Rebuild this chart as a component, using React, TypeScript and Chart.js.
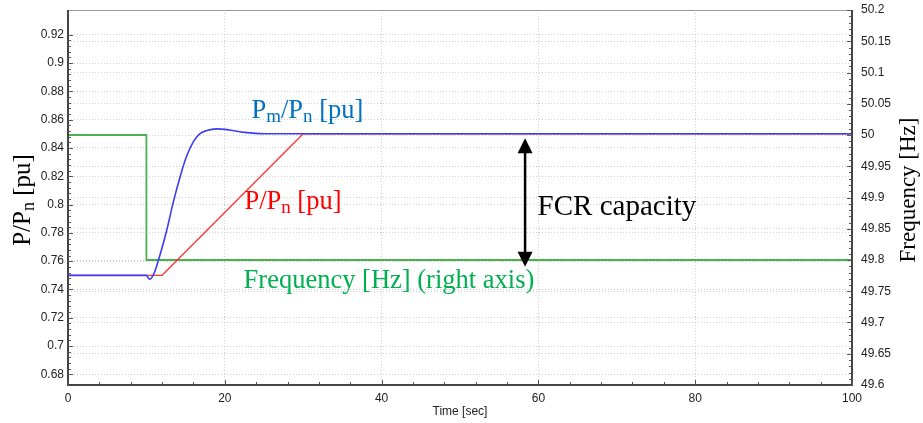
import { useEffect, useRef } from 'react';
import { Chart, registerables } from 'chart.js';

Chart.register(...registerables);

// ---- data ----
const pmTime = [0, 10, 10.4, 10.85, 11.3, 12.6, 13.4, 14.3, 15.1, 16, 16.8, 17.7, 18.9, 20.6, 22.5, 25, 100];
const pmValue = [0.75, 0.75, 0.7472, 0.75, 0.7565, 0.782, 0.801, 0.8197, 0.8338, 0.8445, 0.85, 0.8523, 0.8535, 0.8527, 0.851, 0.85, 0.85];
const pTime = [0, 12, 30, 100];
const pValue = [0.75, 0.75, 0.85, 0.85];
const freqTime = [0, 10, 10, 100];
const freqValue = [50, 50, 49.8, 49.8];

const timeTicks = [0, 20, 40, 60, 80, 100];
const leftTicks = [0.68, 0.7, 0.72, 0.74, 0.76, 0.78, 0.8, 0.82, 0.84, 0.86, 0.88, 0.9, 0.92];
const rightTicks = [49.6, 49.65, 49.7, 49.75, 49.8, 49.85, 49.9, 49.95, 50, 50.05, 50.1, 50.15, 50.2];

const xTitle = 'Time [sec]';
const leftTitle = [{ t: 'P/P' }, { t: 'n', sub: true }, { t: ' [pu]' }];
const rightTitle = 'Frequency [Hz]';

const pmLabel = { x: 23.4, y: 0.8612, color: '#0070c0', parts: [{ t: 'P' }, { t: 'm', sub: true }, { t: '/P' }, { t: 'n', sub: true }, { t: ' [pu]' }] };
const pLabel = { x: 22.5, y: 0.7967, color: '#ff0000', parts: [{ t: 'P/P' }, { t: 'n', sub: true }, { t: ' [pu]' }] };
const freqLabel = { x: 22.4, y: 0.7408, color: '#00b050', parts: [{ t: 'Frequency [Hz] (right axis)' }] };
const fcrLabel = { x: 59.9, y: 0.7926, color: '#000000', parts: [{ t: 'FCR capacity' }] };
const fcrArrow = { x: 58.3, top: 0.8468, bottom: 0.7561 };

const SERIF = '"Liberation Serif", "Times New Roman", serif';
const SANS = '"Liberation Sans", Arial, sans-serif';

type Part = { t: string; sub?: boolean };

function drawRich(ctx: CanvasRenderingContext2D, parts: Part[], x: number, y: number, size: number, align: 'left' | 'center' = 'left') {
  const sub = Math.round(size * 0.72);
  const widths = parts.map((p) => {
    ctx.font = `${p.sub ? sub : size}px ${SERIF}`;
    return ctx.measureText(p.t).width;
  });
  const total = widths.reduce((a, b) => a + b, 0);
  let cx = align === 'center' ? x - total / 2 : x;
  ctx.textBaseline = 'alphabetic';
  ctx.textAlign = 'left';
  parts.forEach((p, i) => {
    ctx.font = `${p.sub ? sub : size}px ${SERIF}`;
    ctx.fillText(p.t, cx, p.sub ? y + size * 0.15 : y);
    cx += widths[i];
  });
}

const overlay = {
  id: 'overlay',
  afterDatasetsDraw(chart: any) {
    const { ctx, chartArea: a, scales } = chart;
    const sx = scales.x;
    const yl = scales.y;
    const yr = scales.y1;
    ctx.save();
    // frame
    ctx.strokeStyle = '#9a9a9a';
    ctx.lineWidth = 1;
    ctx.beginPath();
    ctx.moveTo(a.left, a.top + 0.5);
    ctx.lineTo(a.right, a.top + 0.5);
    ctx.stroke();
    ctx.strokeStyle = '#444';
    ctx.lineWidth = 2;
    ctx.beginPath();
    ctx.moveTo(a.left, a.top);
    ctx.lineTo(a.left, a.bottom);
    ctx.lineTo(a.right, a.bottom);
    ctx.lineTo(a.right, a.top);
    ctx.stroke();
    // minor ticks
    ctx.lineWidth = 1;
    ctx.strokeStyle = '#555';
    ctx.beginPath();
    for (let i = 0; i < timeTicks.length - 1; i++) {
      const step = (timeTicks[i + 1] - timeTicks[i]) / 5;
      for (let k = 0; k <= 5; k++) {
        const px = Math.round(sx.getPixelForValue(timeTicks[i] + k * step)) + 0.5;
        const len = k === 0 || k === 5 ? 5 : 3;
        ctx.moveTo(px, a.bottom);
        ctx.lineTo(px, a.bottom - len);
      }
    }
    for (let i = 0; i < leftTicks.length - 1; i++) {
      const step = (leftTicks[i + 1] - leftTicks[i]) / 5;
      for (let k = 0; k <= 5; k++) {
        const py = Math.round(yl.getPixelForValue(leftTicks[i] + k * step)) + 0.5;
        const len = k === 0 || k === 5 ? 5 : 3;
        ctx.moveTo(a.left, py);
        ctx.lineTo(a.left + len, py);
      }
    }
    for (let i = 0; i < rightTicks.length - 1; i++) {
      const step = (rightTicks[i + 1] - rightTicks[i]) / 5;
      for (let k = 0; k <= 5; k++) {
        const py = Math.round(yr.getPixelForValue(rightTicks[i] + k * step)) + 0.5;
        const len = k === 0 || k === 5 ? 5 : 3;
        ctx.moveTo(a.right, py);
        ctx.lineTo(a.right - len, py);
      }
    }
    ctx.stroke();

    // annotations
    [pmLabel, pLabel, freqLabel].forEach((l) => {
      ctx.fillStyle = l.color;
      drawRich(ctx, l.parts, sx.getPixelForValue(l.x), yl.getPixelForValue(l.y), 26.5);
    });
    ctx.fillStyle = fcrLabel.color;
    drawRich(ctx, fcrLabel.parts, sx.getPixelForValue(fcrLabel.x), yl.getPixelForValue(fcrLabel.y), 29);

    // arrow
    const ax = sx.getPixelForValue(fcrArrow.x);
    const at = yl.getPixelForValue(fcrArrow.top);
    const ab = yl.getPixelForValue(fcrArrow.bottom);
    const hw = 7.5;
    const hh = 15;
    ctx.strokeStyle = '#000';
    ctx.fillStyle = '#000';
    ctx.lineWidth = 2.5;
    ctx.beginPath();
    ctx.moveTo(ax, at + hh - 1);
    ctx.lineTo(ax, ab - hh + 1);
    ctx.stroke();
    ctx.beginPath();
    ctx.moveTo(ax, at);
    ctx.lineTo(ax - hw, at + hh);
    ctx.lineTo(ax + hw, at + hh);
    ctx.closePath();
    ctx.fill();
    ctx.beginPath();
    ctx.moveTo(ax, ab);
    ctx.lineTo(ax - hw, ab - hh);
    ctx.lineTo(ax + hw, ab - hh);
    ctx.closePath();
    ctx.fill();

    // axis titles
    ctx.fillStyle = '#000';
    ctx.save();
    ctx.translate(30, 200);
    ctx.rotate(-Math.PI / 2);
    drawRich(ctx, leftTitle, 0, 0, 25, 'center');
    ctx.restore();
    ctx.save();
    ctx.translate(915, 190);
    ctx.rotate(-Math.PI / 2);
    drawRich(ctx, [{ t: rightTitle }], 0, 0, 23, 'center');
    ctx.restore();

    ctx.font = `12px ${SANS}`;
    ctx.fillStyle = '#222';
    ctx.textAlign = 'center';
    ctx.textBaseline = 'middle';
    ctx.fillText(xTitle, (a.left + a.right) / 2, 412);
    ctx.restore();
  },
};

const fmt = (v: number | string) => String(+Number(v).toFixed(3));

export default function App() {
  const ref = useRef<HTMLCanvasElement | null>(null);
  useEffect(() => {
    if (!ref.current) return;
    const gridColor = '#cfcfcf';
    const tickFont = { family: SANS, size: 12 };
    const chart = new Chart(ref.current, {
      type: 'line',
      data: {
        datasets: [
          {
            label: 'Pm/Pn',
            data: pmTime.map((t, i) => ({ x: t, y: pmValue[i] })),
            borderColor: '#3c3cf5',
            borderWidth: 1.6,
            pointRadius: 0,
            cubicInterpolationMode: 'monotone',
            yAxisID: 'y',
          },
          {
            label: 'P/Pn',
            data: pTime.map((t, i) => ({ x: t, y: pValue[i] })),
            borderColor: '#ff3a3a',
            borderWidth: 1.4,
            pointRadius: 0,
            tension: 0,
            yAxisID: 'y',
          },
          {
            label: 'Frequency',
            data: freqTime.map((t, i) => ({ x: t, y: freqValue[i] })),
            borderColor: '#4caf50',
            borderWidth: 1.8,
            pointRadius: 0,
            tension: 0,
            yAxisID: 'y1',
          },
        ],
      },
      options: {
        responsive: false,
        animation: false,
        devicePixelRatio: 1,
        layout: { padding: { top: 10, left: 0, right: 0, bottom: 0 } },
        plugins: { legend: { display: false }, tooltip: { enabled: false } },
        scales: {
          x: {
            type: 'linear',
            min: 0,
            max: 100,
            afterBuildTicks: (s: any) => {
              s.ticks = timeTicks.map((v) => ({ value: v }));
            },
            afterFit: (s: any) => {
              s.height = 38;
              s.paddingLeft = 0;
              s.paddingRight = 0;
            },
            ticks: { font: tickFont, color: '#222', padding: 6, maxRotation: 0, autoSkip: false, callback: fmt },
            grid: { color: gridColor, lineWidth: 1, drawTicks: false },
            border: { display: false, dash: [1, 2] },
          },
          y: {
            type: 'linear',
            position: 'left',
            min: 0.6725,
            max: 0.9375,
            afterBuildTicks: (s: any) => {
              s.ticks = leftTicks.map((v) => ({ value: v }));
            },
            afterFit: (s: any) => {
              s.width = 68;
              s.paddingTop = 0;
              s.paddingBottom = 0;
            },
            ticks: { font: tickFont, color: '#222', padding: 4, autoSkip: false, callback: fmt },
            grid: { color: gridColor, lineWidth: 1, drawTicks: false },
            border: { display: false, dash: [1, 2] },
          },
          y1: {
            type: 'linear',
            position: 'right',
            min: 49.6,
            max: 50.2,
            afterBuildTicks: (s: any) => {
              s.ticks = rightTicks.map((v) => ({ value: v }));
            },
            afterFit: (s: any) => {
              s.width = 71;
              s.paddingTop = 0;
              s.paddingBottom = 0;
            },
            ticks: { font: tickFont, color: '#222', padding: 9, autoSkip: false, callback: fmt },
            grid: { color: gridColor, lineWidth: 1, drawTicks: false },
            border: { display: false, dash: [1, 2] },
          },
        },
      } as any,
      plugins: [overlay],
    });
    return () => chart.destroy();
  }, []);
  return (
    <div style={{ position: 'fixed', left: 0, top: 0, width: 923, height: 423, background: '#fff' }}>
      <canvas ref={ref} width={923} height={423} />
    </div>
  );
}
